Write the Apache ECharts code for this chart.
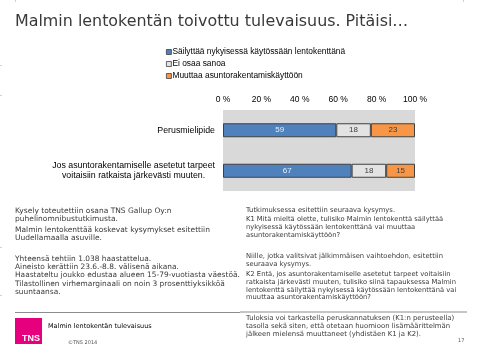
<!DOCTYPE html>
<html><head><meta charset="utf-8">
<script src="https://cdn.jsdelivr.net/npm/echarts@6/dist/echarts.min.js"></script>
<style>html,body{margin:0;padding:0;background:#fff}#c{width:480px;height:360px}</style>
</head><body><div id="c"></div>
<script>
// ---- data ----
var categories = ['Perusmielipide', 'Jos asuntorakentamiselle asetetut tarpeet\nvoitaisiin ratkaista järkevästi muuten.'];
var seriesNames = ['Säilyttää nykyisessä käytössään lentokenttänä', 'Ei osaa sanoa', 'Muuttaa asuntorakentamiskäyttöön'];
var keepValues = [59, 67];
var unsureValues = [18, 18];
var changeValues = [23, 15];
var xTicks = [0, 20, 40, 60, 80, 100];
var titleText = 'Malmin lentokentän toivottu tulevaisuus. Pitäisi…';
var leftPara1 = ['Kysely toteutettiin osana TNS Gallup Oy:n', 'puhelinomnibustutkimusta.'];
var leftPara2 = ['Malmin lentokenttää koskevat kysymykset esitettiin', 'Uudellamaalla asuville.'];
var leftPara3 = ['Yhteensä tehtiin 1.038 haastattelua.', 'Aineisto kerättiin 23.6.-8.8. välisenä aikana.', 'Haastateltu joukko edustaa alueen 15-79-vuotiasta väestöä.', 'Tilastollinen virhemarginaali on noin 3 prosenttiyksikköä', 'suuntaansa.'];
var rightPara1 = ['Tutkimuksessa esitettiin seuraava kysymys.'];
var rightPara2 = ['K1 Mitä mieltä olette, tulisiko Malmin lentokenttä säilyttää', 'nykyisessä käytössään lentokenttänä vai muuttaa', 'asuntorakentamiskäyttöön?'];
var rightPara3 = ['Niille, jotka valitsivat jälkimmäisen vaihtoehdon, esitettiin', 'seuraava kysymys.'];
var rightPara4 = ['K2 Entä, jos asuntorakentamiselle asetetut tarpeet voitaisiin', 'ratkaista järkevästi muuten, tulisiko siinä tapauksessa Malmin', 'lentokenttä säilyttää nykyisessä käytössään lentokenttänä vai', 'muuttaa asuntorakentamiskäyttöön?'];
var rightPara5 = ['Tuloksia voi tarkastella peruskannatuksen (K1:n perusteella)', 'tasolla sekä siten, että otetaan huomioon lisämäärittelmän', 'jälkeen mielensä muuttaneet (yhdistäen K1 ja K2).'];
var footerTitle = 'Malmin lentokentän tulevaisuus';
var footerCopy = '©TNS 2014';
var pageNo = '17';

var colors = ['#4f81bd', '#e3e3e3', '#f79646'];
var labelColors = ['#e8eef7', '#404040', '#404040'];
var BODY = '"DejaVu Sans", Verdana, sans-serif';
var ARIAL = '"Liberation Sans", Arial, sans-serif';

function para(lines, x, yFirstCenter, size, lh, color) {
  return {
    type: 'text', x: x, y: yFirstCenter - lh / 2, silent: true,
    style: { text: lines.join('\n'), fontFamily: BODY, fontSize: size, lineHeight: lh,
      fill: color || '#3a3a3a', verticalAlign: 'top', align: 'left' }
  };
}

var chart = echarts.init(document.getElementById('c'), null, { renderer: 'canvas' });
var vals = [keepValues, unsureValues, changeValues];
var series = seriesNames.map(function (n, i) {
  return {
    name: n, type: 'bar', stack: 'all', barWidth: 14, data: vals[i],
    itemStyle: { color: colors[i], borderColor: '#404040', borderWidth: 1 },
    label: { show: true, position: 'inside', color: labelColors[i], fontSize: 8, fontFamily: ARIAL },
    emphasis: { disabled: true }
  };
});

chart.setOption({
  animation: false,
  backgroundColor: '#fff',
  legend: {
    orient: 'vertical', left: 166, top: 48, padding: 0, itemWidth: 5, itemHeight: 5, itemGap: 4,
    icon: 'rect', selectedMode: false,
    textStyle: { fontSize: 8.4, fontFamily: ARIAL, color: '#000', padding: [0, 0, 0, -4] },
    data: seriesNames.map(function (n, i) { return { name: n, itemStyle: { color: colors[i], borderColor: '#404040', borderWidth: 0.8 } }; })
  },
  grid: { left: 223, right: 65, top: 110, height: 81, show: true, backgroundColor: '#d9d9d9', borderWidth: 0, containLabel: false },
  xAxis: {
    type: 'value', position: 'top', min: xTicks[0], max: xTicks[xTicks.length - 1], interval: 20,
    axisLine: { show: false }, axisTick: { show: false }, splitLine: { show: false },
    axisLabel: { formatter: '{value} %', fontSize: 8.5, fontFamily: ARIAL, color: '#000', margin: 6 }
  },
  yAxis: {
    type: 'category', inverse: true, data: categories,
    axisLine: { show: false }, axisTick: { show: false },
    axisLabel: {
      margin: 8, color: '#000', fontSize: 8.8, fontFamily: ARIAL, lineHeight: 10,
      formatter: function (v) { return v.split('\n').map(function (s) { return '{a|' + s + '}'; }).join('\n'); },
      rich: { a: { align: 'center', fontSize: 8.8, fontFamily: ARIAL, color: '#000', lineHeight: 10 } }
    }
  },
  series: series,
  graphic: [
    { type: 'text', x: 15, y: 22, silent: true, style: { text: titleText, fontFamily: BODY, fontSize: 15.9, fill: '#3a3a3a', verticalAlign: 'middle' } },
    para(leftPara1, 15, 211, 7.5, 8.3),
    para(leftPara2, 15, 230, 7.5, 8.3),
    para(leftPara3, 15, 259, 7.45, 8.2),
    para(rightPara1, 246, 210, 6.8, 8),
    para(rightPara2, 246, 219.3, 6.75, 7.85),
    para(rightPara3, 246, 256, 6.8, 8),
    para(rightPara4, 246, 274.3, 6.75, 7.8),
    para(rightPara5, 246, 318.3, 6.9, 7.85),
    { type: 'line', silent: true, shape: { x1: 15, y1: 312.5, x2: 240, y2: 312.5 }, style: { stroke: '#8c8c8c', lineWidth: 1 } },
    { type: 'line', silent: true, shape: { x1: 240, y1: 312, x2: 467, y2: 312 }, style: { stroke: '#8c8c8c', lineWidth: 1 } },
    { type: 'rect', silent: true, shape: { x: 15, y: 318, width: 27, height: 26 }, style: { fill: '#e6007e' } },
    { type: 'text', x: 22, y: 343, silent: true, style: { text: 'TNS', fontFamily: ARIAL, fontSize: 9, fontWeight: 'bold', fill: '#fff', verticalAlign: 'bottom' } },
    { type: 'text', x: 48, y: 326, silent: true, style: { text: footerTitle, fontFamily: BODY, fontSize: 6.5, fill: '#000', verticalAlign: 'middle' } },
    { type: 'text', x: 68, y: 343, silent: true, style: { text: footerCopy, fontFamily: BODY, fontSize: 5, fill: '#555', verticalAlign: 'middle' } },
    { type: 'text', x: 458, y: 341, silent: true, style: { text: pageNo, fontFamily: BODY, fontSize: 5, fill: '#555', verticalAlign: 'middle' } },
    { type: 'rect', silent: true, shape: { x: 15, y: 0, width: 1, height: 2 }, style: { fill: '#f7c9a0' } },
    { type: 'rect', silent: true, shape: { x: 463, y: 0, width: 1, height: 2 }, style: { fill: '#f7c9a0' } },
    { type: 'rect', silent: true, shape: { x: 0, y: 65, width: 2, height: 1 }, style: { fill: '#f7c9a0' } },
    { type: 'rect', silent: true, shape: { x: 0, y: 95, width: 2, height: 1 }, style: { fill: '#f7c9a0' } },
    { type: 'rect', silent: true, shape: { x: 0, y: 247, width: 2, height: 1 }, style: { fill: '#f7c9a0' } },
    { type: 'rect', silent: true, shape: { x: 0, y: 295, width: 2, height: 1 }, style: { fill: '#f7c9a0' } }
  ]
});
</script></body></html>
